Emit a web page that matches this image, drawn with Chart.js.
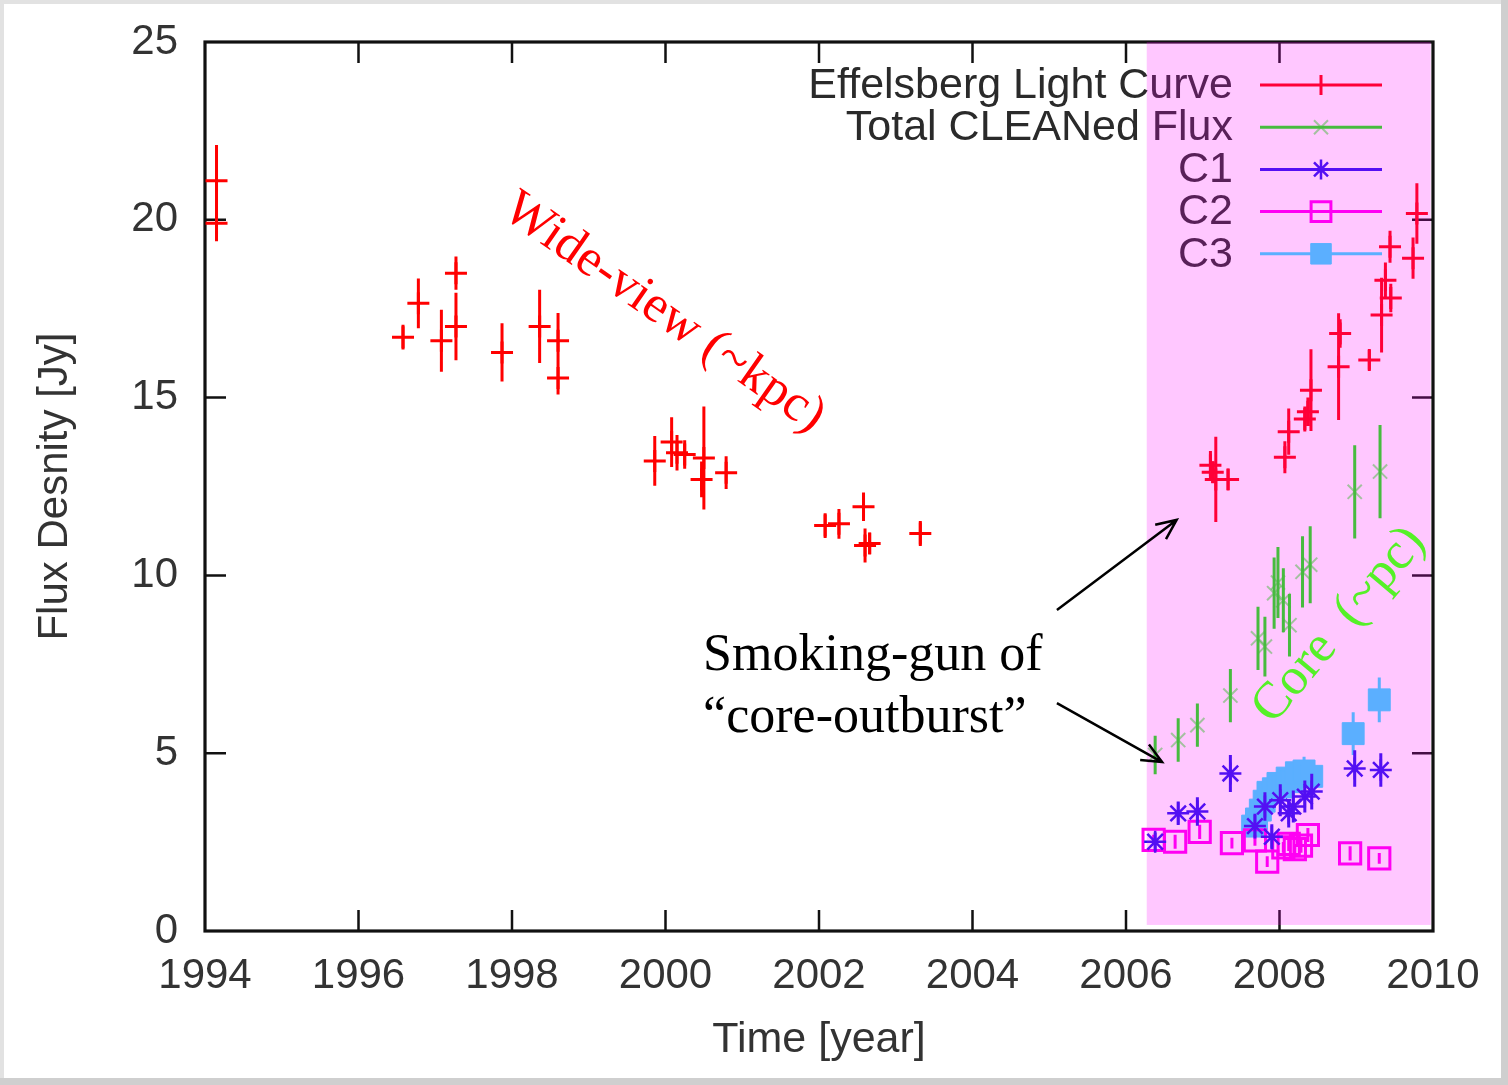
<!DOCTYPE html>
<html>
<head>
<meta charset="utf-8">
<script src="https://cdn.jsdelivr.net/npm/chart.js@4.4.1/dist/chart.umd.min.js"></script>
<style>
  html, body { margin: 0; padding: 0; background: #ffffff; }
  canvas { display: block; }
</style>
</head>
<body>
<canvas id="c" width="1508" height="1085"></canvas>
<script>
// ---------------- data ----------------
const xTickValues = [1994, 1996, 1998, 2000, 2002, 2004, 2006, 2008, 2010];
const yTickValues = [0, 5, 10, 15, 20, 25];

const seriesNames = ["Effelsberg Light Curve", "Total CLEANed Flux", "C1", "C2", "C3"];

const effYears = [1994.15, 1994.15, 1996.58, 1996.78, 1997.08, 1997.27, 1997.27, 1997.87, 1998.36, 1998.60, 1998.60,
  1999.86, 2000.08, 2000.15, 2000.25, 2000.50, 2000.47, 2000.79, 2002.08, 2002.26, 2002.58, 2002.60, 2002.66, 2003.32,
  2007.10, 2007.13, 2007.17, 2007.33, 2008.07, 2008.12, 2008.33, 2008.37, 2008.41, 2008.77, 2008.79, 2009.17,
  2009.33, 2009.38, 2009.45, 2009.44, 2009.74, 2009.79];
const effFlux = [21.1, 19.9, 16.7, 17.65, 16.6, 18.5, 17.0, 16.27, 17.0, 16.6, 15.55,
  13.22, 13.75, 13.45, 13.4, 13.3, 12.7, 12.89, 11.4, 11.45, 11.93, 10.84, 10.9, 11.18,
  13.1, 12.9, 12.7, 12.7, 13.32, 14.04, 14.4, 14.6, 15.21, 15.87, 16.8, 16.06,
  17.32, 18.3, 17.8, 19.24, 18.92, 20.18];
const effErr = [1.0, 0.5, 0.35, 0.7, 0.87, 0.47, 0.95, 0.82, 1.03, 0.78, 0.46,
  0.7, 0.7, 0.5, 0.4, 1.45, 0.5, 0.46, 0.35, 0.42, 0.4, 0.48, 0.3, 0.35,
  0.4, 0.3, 1.2, 0.3, 0.45, 0.65, 0.35, 0.4, 1.15, 1.5, 0.4, 0.28,
  1.05, 0.5, 0.4, 0.45, 0.58, 0.85];

const totYears = [2006.38, 2006.68, 2006.93, 2007.36, 2007.72, 2007.81, 2007.93, 2007.98, 2008.05, 2008.13, 2008.30, 2008.40, 2008.98, 2009.31];
const totFlux  = [4.95, 5.37, 5.79, 6.62, 8.23, 8.0, 9.5, 9.8, 9.3, 8.6, 10.1, 10.3, 12.35, 12.92];
const totErr   = [0.54, 0.61, 0.61, 0.75, 0.89, 0.84, 1.0, 1.0, 0.9, 0.88, 1.0, 1.08, 1.31, 1.31];

const c1Years = [2006.38, 2006.68, 2006.93, 2007.36, 2007.68, 2007.81, 2007.90, 2008.01, 2008.12, 2008.18, 2008.33, 2008.42, 2008.98, 2009.32];
const c1Flux  = [2.51, 3.31, 3.36, 4.43, 2.95, 3.5, 2.65, 3.68, 3.31, 3.5, 3.78, 3.92, 4.57, 4.53];
const c1Err   = [0.26, 0.33, 0.4, 0.52, 0.35, 0.4, 0.35, 0.45, 0.4, 0.45, 0.45, 0.5, 0.51, 0.47];

const c2Years = [2006.36, 2006.64, 2006.96, 2007.38, 2007.68, 2007.84, 2008.05, 2008.12, 2008.20, 2008.28, 2008.37, 2008.92, 2009.30];
const c2Flux  = [2.56, 2.51, 2.79, 2.47, 2.55, 1.95, 2.35, 2.45, 2.3, 2.4, 2.7, 2.18, 2.04];
const c2Err   = [0.15, 0.2, 0.2, 0.15, 0.15, 0.15, 0.15, 0.2, 0.15, 0.2, 0.2, 0.2, 0.15];

const c3Years = [2007.65, 2007.70, 2007.75, 2007.80, 2007.85, 2007.92, 2007.98, 2008.05, 2008.10, 2008.16, 2008.22, 2008.32, 2008.42, 2008.96, 2009.30];
const c3Flux  = [2.95, 3.15, 3.4, 3.65, 3.9, 4.0, 4.15, 4.05, 4.3, 4.2, 4.45, 4.5, 4.35, 5.55, 6.5];
const c3Err   = [0.2, 0.2, 0.2, 0.2, 0.25, 0.25, 0.25, 0.25, 0.3, 0.3, 0.35, 0.4, 0.3, 0.6, 0.63];

// highlighted (pink) time range and flux range
const highlightYears = [2006.27, 2009.97];
const highlightFlux = [0.17, 25.0];

// annotation anchors in data coordinates
const wideLabelPos = [1999.98, 17.38];
const coreLabelPos = [2008.78, 8.6];
const smokingPos = [2000.49, 7.71, 5.99];
const arrowUp = [2005.10, 9.03, 2006.66, 11.56];
const arrowDown = [2005.10, 6.41, 2006.47, 4.75];

// ---------------- helpers ----------------
function toPoints(xs, ys, es) {
  return xs.map((x, i) => ({ x: x, y: ys[i], err: es[i] }));
}
const RED = 'rgb(255,0,0)';
const GREEN = 'rgb(20,240,10)';
const BLUE = 'rgb(35,20,240)';
const MAGENTA = 'rgb(255,0,240)';
const CYAN = 'rgb(45,225,255)';
const SANS = '"Liberation Sans", Arial, Helvetica, sans-serif';
const SERIF = '"Liberation Serif", "Times New Roman", serif';

const datasets = [
  { label: seriesNames[0], data: toPoints(effYears, effFlux, effErr), showLine: false,
    pointStyle: 'cross', pointRadius: 11, borderColor: RED, backgroundColor: RED, pointBorderWidth: 3,
    errColor: RED, errWidth: 3 },
  { label: seriesNames[1], data: toPoints(totYears, totFlux, totErr), showLine: false,
    pointStyle: 'crossRot', pointRadius: 10, borderColor: 'rgba(20,240,10,0.5)', backgroundColor: GREEN, pointBorderWidth: 2,
    errColor: GREEN, errWidth: 3, legendColor: GREEN },
  { label: seriesNames[2], data: toPoints(c1Years, c1Flux, c1Err), showLine: false,
    pointStyle: 'star', pointRadius: 11, borderColor: BLUE, backgroundColor: BLUE, pointBorderWidth: 2.5,
    errColor: BLUE, errWidth: 3 },
  { label: seriesNames[3], data: toPoints(c2Years, c2Flux, c2Err), showLine: false,
    pointStyle: 'rect', pointRadius: 15, borderColor: MAGENTA, backgroundColor: 'rgba(0,0,0,0)', pointBorderWidth: 3,
    errColor: MAGENTA, errWidth: 3 },
  { label: seriesNames[4], data: toPoints(c3Years, c3Flux, c3Err), showLine: false,
    pointStyle: 'rect', pointRadius: 15.5, borderColor: CYAN, backgroundColor: CYAN, pointBorderWidth: 1,
    errColor: CYAN, errWidth: 3 }
];

// ---------------- plugins ----------------
const pageBackground = {
  id: 'pageBackground',
  beforeDraw(chart) {
    const c = chart.ctx, w = chart.width, h = chart.height;
    c.save();
    c.fillStyle = '#ffffff';
    c.fillRect(0, 0, w, h);
    c.fillStyle = '#e2e2e2';
    c.fillRect(0, 0, w, 4);
    c.fillRect(0, 0, 4, h);
    c.fillStyle = '#cfcfcf';
    c.fillRect(w - 7, 0, 7, h);
    c.fillRect(0, h - 7, w, 7);
    c.restore();
  }
};

const frameAndTicks = {
  id: 'frameAndTicks',
  beforeDatasetsDraw(chart) {
    const c = chart.ctx, a = chart.chartArea, xs = chart.scales.x, ys = chart.scales.y;
    c.save();
    c.strokeStyle = '#111111';
    c.lineWidth = 3.2;
    c.strokeRect(a.left, a.top, a.right - a.left, a.bottom - a.top);
    c.lineWidth = 2.5;
    c.beginPath();
    const tl = 21;
    xTickValues.forEach(v => {
      const px = xs.getPixelForValue(v);
      if (Math.abs(px - a.left) < 2 || Math.abs(px - a.right) < 2) return;
      c.moveTo(px, a.bottom); c.lineTo(px, a.bottom - tl);
      c.moveTo(px, a.top); c.lineTo(px, a.top + tl);
    });
    yTickValues.forEach(v => {
      const py = ys.getPixelForValue(v);
      if (Math.abs(py - a.top) < 2 || Math.abs(py - a.bottom) < 2) return;
      c.moveTo(a.left, py); c.lineTo(a.left + tl, py);
      c.moveTo(a.right, py); c.lineTo(a.right - tl, py);
    });
    c.stroke();
    c.restore();
  }
};

const errorBars = {
  id: 'errorBars',
  beforeDatasetDraw(chart, args) {
    const ds = chart.data.datasets[args.index];
    const meta = args.meta, ys = chart.scales.y, c = chart.ctx;
    c.save();
    c.strokeStyle = ds.errColor;
    c.lineWidth = ds.errWidth;
    c.beginPath();
    ds.data.forEach((d, i) => {
      const el = meta.data[i];
      if (!el) return;
      const y1 = ys.getPixelForValue(d.y + d.err);
      const y2 = ys.getPixelForValue(d.y - d.err);
      c.moveTo(el.x, y1); c.lineTo(el.x, y2);
    });
    c.stroke();
    c.restore();
  }
};

function drawMarker(c, style, x, y, r, color, fill, lw) {
  c.save();
  c.strokeStyle = color; c.fillStyle = fill; c.lineWidth = lw;
  c.beginPath();
  if (style === 'cross') {
    c.moveTo(x, y - r); c.lineTo(x, y + r);
  } else if (style === 'crossRot') {
    const d = r * 0.7;
    c.moveTo(x - d, y - d); c.lineTo(x + d, y + d);
    c.moveTo(x + d, y - d); c.lineTo(x - d, y + d);
  } else if (style === 'star') {
    const d = r * 0.7;
    c.moveTo(x - d, y - d); c.lineTo(x + d, y + d);
    c.moveTo(x + d, y - d); c.lineTo(x - d, y + d);
    c.moveTo(x, y - r); c.lineTo(x, y + r);
  } else if (style === 'rect') {
    const s = r * Math.SQRT1_2;
    c.rect(x - s, y - s, 2 * s, 2 * s);
    if (fill !== 'rgba(0,0,0,0)') c.fill();
  }
  c.stroke();
  c.restore();
}

const keyBox = {
  id: 'keyBox',
  afterDatasetsDraw(chart) {
    const c = chart.ctx;
    const rowY0 = 85, rowH = 42.2;
    const textRight = 1233, lineL = 1260, lineR = 1382;
    c.save();
    c.font = '43px ' + SANS;
    c.textAlign = 'right';
    c.textBaseline = 'middle';
    chart.data.datasets.forEach((ds, i) => {
      const y = rowY0 + i * rowH;
      c.fillStyle = '#2a2a2a';
      c.fillText(ds.label, textRight, y + 1);
      const col = ds.legendColor || ds.errColor;
      c.strokeStyle = col; c.lineWidth = 3;
      c.beginPath(); c.moveTo(lineL, y); c.lineTo(lineR, y); c.stroke();
      const mid = (lineL + lineR) / 2;
      const rr = ds.pointStyle === 'rect' ? ds.pointRadius - 1 : 10;
      drawMarker(c, ds.pointStyle, mid, y, rr, ds.borderColor, ds.backgroundColor, ds.pointBorderWidth);
    });
    c.restore();
  }
};

function arrow(c, x1, y1, x2, y2) {
  const ang = Math.atan2(y2 - y1, x2 - x1), L = 22, sp = 0.42;
  c.beginPath();
  c.moveTo(x1, y1); c.lineTo(x2, y2);
  c.moveTo(x2 - L * Math.cos(ang - sp), y2 - L * Math.sin(ang - sp));
  c.lineTo(x2, y2);
  c.lineTo(x2 - L * Math.cos(ang + sp), y2 - L * Math.sin(ang + sp));
  c.stroke();
}

const overlayAndNotes = {
  id: 'overlayAndNotes',
  afterDraw(chart) {
    const c = chart.ctx, xs = chart.scales.x, ys = chart.scales.y;
    c.save();
    // pink highlight (semi-transparent, on top of plot)
    const hx1 = xs.getPixelForValue(highlightYears[0]), hx2 = xs.getPixelForValue(highlightYears[1]);
    const hy1 = ys.getPixelForValue(highlightFlux[1]), hy2 = ys.getPixelForValue(highlightFlux[0]);
    c.fillStyle = 'rgba(255,0,255,0.22)';
    c.fillRect(hx1, hy1, hx2 - hx1, hy2 - hy1);

    // Wide-view label
    c.save();
    c.translate(xs.getPixelForValue(wideLabelPos[0]), ys.getPixelForValue(wideLabelPos[1]));
    c.rotate(35 * Math.PI / 180);
    c.font = '52px ' + SERIF;
    c.fillStyle = '#ff0000';
    c.textAlign = 'center'; c.textBaseline = 'middle';
    c.fillText('Wide-view (~kpc)', 0, 0);
    c.restore();

    // Core label
    c.save();
    c.translate(xs.getPixelForValue(coreLabelPos[0]), ys.getPixelForValue(coreLabelPos[1]));
    c.rotate(-50 * Math.PI / 180);
    c.font = '52px ' + SERIF;
    c.fillStyle = 'rgb(85,240,40)';
    c.textAlign = 'center'; c.textBaseline = 'middle';
    c.fillText('Core  (~pc)', 0, 0);
    c.restore();

    // Smoking-gun text
    c.font = '52px ' + SERIF;
    c.fillStyle = '#000000';
    c.textAlign = 'left'; c.textBaseline = 'middle';
    const sx = xs.getPixelForValue(smokingPos[0]);
    c.fillText('Smoking-gun of', sx, ys.getPixelForValue(smokingPos[1]));
    c.fillText('\u201Ccore-outburst\u201D', sx, ys.getPixelForValue(smokingPos[2]));

    // arrows
    c.strokeStyle = '#000000';
    c.lineWidth = 2.5;
    arrow(c, xs.getPixelForValue(arrowUp[0]), ys.getPixelForValue(arrowUp[1]), xs.getPixelForValue(arrowUp[2]), ys.getPixelForValue(arrowUp[3]));
    arrow(c, xs.getPixelForValue(arrowDown[0]), ys.getPixelForValue(arrowDown[1]), xs.getPixelForValue(arrowDown[2]), ys.getPixelForValue(arrowDown[3]));
    c.restore();
  }
};

// ---------------- chart ----------------
const tickFont = { family: SANS, size: 42 };
new Chart(document.getElementById('c').getContext('2d'), {
  type: 'scatter',
  data: { datasets: datasets },
  options: {
    responsive: false,
    animation: false,
    events: [],
    layout: { padding: { top: 42, right: 75, left: 0, bottom: 0 } },
    plugins: { legend: { display: false }, tooltip: { enabled: false } },
    scales: {
      x: {
        type: 'linear', min: xTickValues[0], max: xTickValues[xTickValues.length - 1],
        afterBuildTicks: s => { s.ticks = xTickValues.map(v => ({ value: v })); },
        ticks: { font: tickFont, color: '#333333', padding: 20, maxRotation: 0, autoSkip: false, callback: v => String(v) },
        grid: { display: false, drawTicks: false },
        border: { display: false },
        title: { display: true, text: 'Time [year]', font: { family: SANS, size: 43 }, color: '#333333', padding: { top: 0, bottom: 19 } },
        afterFit: s => { s.height = 154; s.paddingLeft = 0; s.paddingRight = 0; }
      },
      y: {
        type: 'linear', min: yTickValues[0], max: yTickValues[yTickValues.length - 1],
        afterBuildTicks: s => { s.ticks = yTickValues.map(v => ({ value: v })); },
        ticks: { font: tickFont, color: '#333333', padding: 27, autoSkip: false, callback: v => String(v) },
        grid: { display: false, drawTicks: false },
        border: { display: false },
        title: { display: true, text: 'Flux Desnity [Jy]', font: { family: SANS, size: 42 }, color: '#333333', padding: { top: 30, bottom: 0 } },
        afterFit: s => { s.width = 205; s.paddingTop = 0; s.paddingBottom = 0; }
      }
    }
  },
  plugins: [pageBackground, frameAndTicks, errorBars, keyBox, overlayAndNotes]
});
</script>
</body>
</html>
